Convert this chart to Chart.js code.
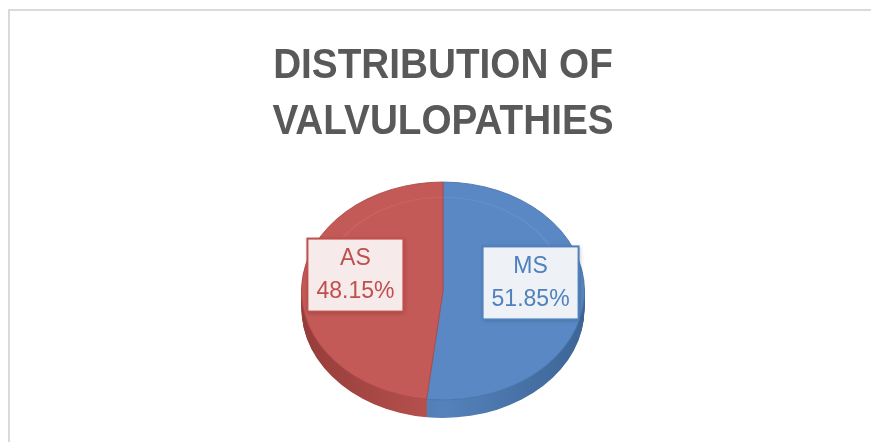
<!DOCTYPE html>
<html>
<head>
<meta charset="utf-8">
<script src="https://cdn.jsdelivr.net/npm/chart.js@4.4.1/dist/chart.umd.min.js"></script>
<style>
    html, body { margin: 0; padding: 0; background: #fff; }
    #wrap { position: relative; width: 871px; height: 442px; overflow: hidden; }
    #frame {
        position: absolute; left: 8px; top: 9px; right: 0; bottom: 0;
        border-left: 2px solid #dadada; border-top: 2px solid #dadada;
    }
    canvas { position: absolute; left: 0; top: 0; }
</style>
</head>
<body>
<div id="wrap">
    <div id="frame"></div>
    <canvas id="pieChart" width="871" height="442"></canvas>
</div>
<script>
// ================= DATA =================
const titleLines = ['DISTRIBUTION OF', 'VALVULOPATHIES'];
const categories = ['MS', 'AS'];
const shares = [51.85, 48.15];

// ================= STYLE =================
const topColors = ['#5a88c4', '#c45a57'];
const sideEdge = ['#3d6596', '#953d3a'];
const sideMid = ['#5582bb', '#b9524f'];
const textColors = ['#4f81bd', '#c0504d'];
const boxFills = ['#eef1f6', '#f6eaea'];

const TILT = 0.77;         // vertical squash of the pie top
const DEPTH = 18;          // thickness of the pie side
const TITLE_SQUASH = 0.9;  // narrow the title like a condensed face

// ================= TITLE WIDTH =================
const titleSquashPlugin = {
    id: 'titleSquash',
    beforeDraw(chart) {
        const ctx = chart.ctx;
        const tb = chart.titleBlock;
        const cx = (tb.left + tb.right) / 2;
        ctx.save();
        ctx.translate(cx, 0);
        ctx.scale(TITLE_SQUASH, 1);
        ctx.translate(-cx, 0);
    },
    beforeDatasetsDraw(chart) {
        chart.ctx.restore();
    }
};

// ================= 3D LOOK =================
const tiltPlugin = {
    id: 'tilt',
    beforeDatasetsDraw(chart) {
        const ctx = chart.ctx;
        const arcs = chart.getDatasetMeta(0).data;
        if (!arcs.length) return;
        const cx = arcs[0].x, cy = arcs[0].y, r = arcs[0].outerRadius;

        ctx.save();
        ctx.translate(cx, cy);
        ctx.scale(1, TILT);
        ctx.translate(-cx, -cy);

        // side wall, drawn from the bottom up
        for (let d = DEPTH; d > 0; d--) {
            arcs.forEach((arc, i) => {
                const g = ctx.createLinearGradient(cx - r, 0, cx + r, 0);
                g.addColorStop(0, sideEdge[i]);
                g.addColorStop(0.5, sideMid[i]);
                g.addColorStop(1, sideEdge[i]);
                ctx.beginPath();
                ctx.moveTo(arc.x, arc.y + d / TILT);
                ctx.arc(arc.x, arc.y + d / TILT, arc.outerRadius, arc.startAngle, arc.endAngle);
                ctx.closePath();
                ctx.fillStyle = g;
                ctx.fill();
            });
        }
    },
    afterDatasetsDraw(chart) {
        const ctx = chart.ctx;
        const arcs = chart.getDatasetMeta(0).data;
        if (!arcs.length) return;
        // faint bevel ring on the top face
        ctx.beginPath();
        ctx.arc(arcs[0].x, arcs[0].y, arcs[0].outerRadius * 0.86, Math.PI * 1.1, Math.PI * 1.9);
        ctx.strokeStyle = 'rgba(255,255,255,0.07)';
        ctx.lineWidth = 1.5;
        ctx.stroke();
        ctx.restore();
    }
};

// ================= LABEL BOXES =================
const boxLabelPlugin = {
    id: 'boxLabels',
    afterDraw(chart) {
        const ctx = chart.ctx;
        const meta = chart.getDatasetMeta(0);
        ctx.save();
        ctx.font = '23px "Liberation Sans", Arial, sans-serif';
        ctx.textAlign = 'center';
        ctx.textBaseline = 'middle';

        meta.data.forEach((arc, i) => {
            const mid = (arc.startAngle + arc.endAngle) / 2;
            const x = arc.x + Math.cos(mid) * arc.outerRadius * 0.62;
            const y = arc.y + Math.sin(mid) * arc.outerRadius * 0.62 * TILT - 12;
            const lines = [categories[i], shares[i].toFixed(2) + '%'];
            const w = Math.max(...lines.map(t => ctx.measureText(t).width)) + 18;
            const h = 73;

            ctx.shadowColor = 'rgba(0,0,0,0.25)';
            ctx.shadowBlur = 4;
            ctx.shadowOffsetX = 1;
            ctx.shadowOffsetY = 1;
            ctx.fillStyle = boxFills[i];
            ctx.fillRect(x - w / 2, y - h / 2, w, h);
            ctx.shadowColor = 'transparent';

            ctx.strokeStyle = textColors[i];
            ctx.lineWidth = 2;
            ctx.strokeRect(x - w / 2, y - h / 2, w, h);

            ctx.fillStyle = textColors[i];
            ctx.fillText(lines[0], x, y - 16);
            ctx.fillText(lines[1], x, y + 17);
        });
        ctx.restore();
    }
};

// ================= CHART =================
const ctx = document.getElementById('pieChart');

new Chart(ctx, {
    type: 'pie',
    data: {
        labels: categories,
        datasets: [{
            data: shares,
            backgroundColor: topColors,
            borderColor: ['#4a76ad', '#ad4a47'],
            borderWidth: 1,
            radius: 141.5
        }]
    },
    options: {
        responsive: false,
        animation: false,
        layout: { padding: { left: 15, right: 0, top: 0, bottom: 10 } },
        plugins: {
            legend: { display: false },
            tooltip: { enabled: false },
            title: {
                display: true,
                text: titleLines,
                color: '#595959',
                font: {
                    family: '"Liberation Sans", Arial, sans-serif',
                    size: 43,
                    weight: 'bold',
                    lineHeight: 56 / 43
                },
                padding: { top: 38, bottom: 0 }
            }
        }
    },
    plugins: [titleSquashPlugin, tiltPlugin, boxLabelPlugin]
});
</script>
</body>
</html>
